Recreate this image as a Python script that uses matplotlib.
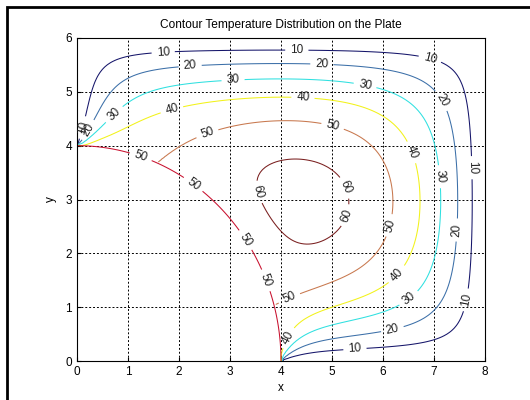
import numpy as np
import matplotlib.pyplot as plt
from matplotlib.patches import Rectangle

# --- plate / problem data ---
plate_w, plate_h = 8.0, 6.0      # plate size
hole_r = 4.0                     # quarter-circle cut at the origin
t_edge = 0.0                     # outer edges
t_hole = 50.0                    # curved edge
heat_source = 19.7               # uniform source term
low_levels = [10, 20, 30, 40]
high_levels = [50, 60]
low_colors = ['#15156a', '#3b6fa8', '#2fe0e0', '#f2f21a']
high_colors = ['#c8784e', '#7a1f1f']
arc_color = '#c8102e'
x_ticks = [0, 1, 2, 3, 4, 5, 6, 7, 8]
y_ticks = [0, 1, 2, 3, 4, 5, 6]

# label spots (x, y)
low_label_spots = [
    (1.69, 5.74), (4.31, 5.76), (6.92, 5.61), (7.71, 3.59), (7.65, 1.13), (5.45, 0.22), (0.06, 4.35),
    (2.22, 5.47), (4.80, 5.50), (7.12, 4.82), (7.51, 2.43), (6.18, 0.61), (0.22, 4.29),
    (0.71, 4.60), (3.06, 5.22), (5.65, 5.13), (7.06, 3.42), (6.50, 1.17),
    (1.86, 4.67), (4.43, 4.88), (6.57, 3.88), (6.33, 1.56), (4.14, 0.43),
]
high_label_spots = [
    (2.55, 4.24), (5.02, 4.39), (6.20, 2.50), (4.18, 1.13),
    (3.49, 3.12), (5.31, 3.24), (5.35, 2.68),
]
arc_label_spots = [(1.24, 3.77), (2.27, 3.27), (3.31, 2.25), (3.71, 1.50)]

# --- finite difference solve (red-black SOR) ---
h = 0.05
x = np.linspace(0, plate_w, int(round(plate_w / h)) + 1)
y = np.linspace(0, plate_h, int(round(plate_h / h)) + 1)
X, Y = np.meshgrid(x, y)
R = np.hypot(X, Y)
hole = R <= hole_r

T = np.full(X.shape, t_edge)
T[hole] = t_hole
free = ~hole
free[0, :] = free[-1, :] = free[:, 0] = free[:, -1] = False
I, J = np.indices(X.shape)
red = free & ((I + J) % 2 == 0)
black = free & ((I + J) % 2 == 1)
omega = 1.94
for it in range(2500):
    for m in (red, black):
        nb = np.zeros_like(T)
        nb[1:-1, 1:-1] = T[:-2, 1:-1] + T[2:, 1:-1] + T[1:-1, :-2] + T[1:-1, 2:]
        new = 0.25 * (nb + h * h * heat_source)
        T[m] += omega * (new[m] - T[m])

# hole kept at t_hole so low contours run into the corners; masked for 50/60
T_masked = np.where(hole, np.nan, T)

# --- plot ---
plt.rcParams['font.family'] = ['Liberation Sans', 'DejaVu Sans']
fig = plt.figure(figsize=(5.3, 4.0), dpi=100)
ax = fig.add_axes([77 / 530, 39 / 400, 408 / 530, 323 / 400])

cs_low = ax.contour(X, Y, T, levels=low_levels, colors=low_colors, linewidths=0.75)
ax.clabel(cs_low, fmt='%d', fontsize=8.5, inline=True, manual=low_label_spots, colors='#222222')

cs_high = ax.contour(X, Y, T_masked, levels=high_levels, colors=high_colors, linewidths=0.75)
ax.clabel(cs_high, fmt='%d', fontsize=8.5, inline=True, manual=high_label_spots, colors='#222222')

arc = ax.contour(X, Y, R, levels=[hole_r], colors=arc_color, linewidths=0.75)
ax.clabel(arc, fmt={hole_r: '%d' % t_hole}, fontsize=8.5, inline=True, manual=arc_label_spots,
          colors='#222222')

ax.set_xlim(0, plate_w)
ax.set_ylim(0, plate_h)
ax.set_xticks(x_ticks)
ax.set_yticks(y_ticks)
ax.tick_params(labelsize=8.5, direction='in', length=3)
ax.grid(True, color='black', linestyle=(0, (2, 2)), linewidth=0.7)
ax.set_title('Contour Temperature Distribution on the Plate', fontsize=8.6, pad=7)
ax.set_xlabel('x', fontsize=8.5, labelpad=3)
ax.set_ylabel('y', fontsize=8.5, labelpad=6)

fig.add_artist(Rectangle((7 / 530, -0.1), 1.2, 393 / 400 + 0.1, fill=False,
                         linewidth=2, edgecolor='black', transform=fig.transFigure))

fig.savefig('out.png', dpi=100)
